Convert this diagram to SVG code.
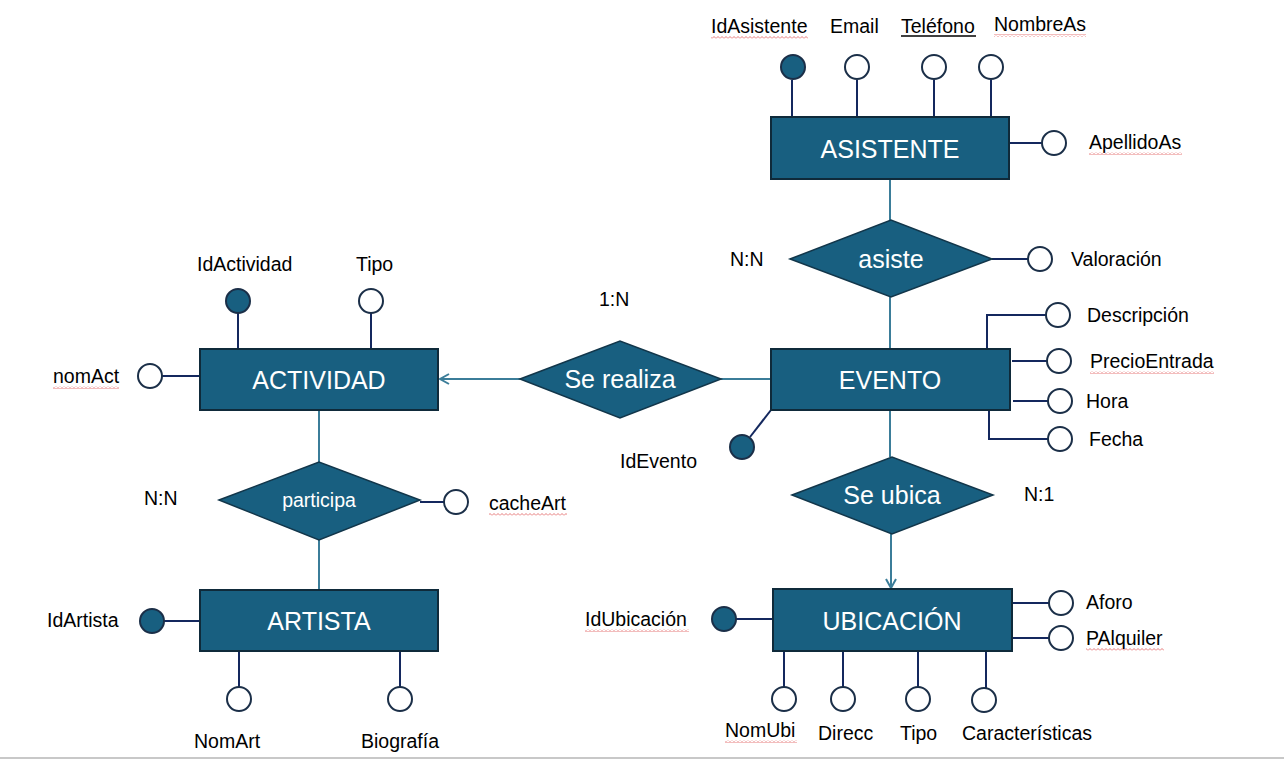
<svg xmlns="http://www.w3.org/2000/svg" width="1284" height="760" viewBox="0 0 1284 760">
<style>
.ent{fill:#185f80;stroke:#0f2a3a;stroke-width:2}
.rel{fill:#185f80;stroke:#12364a;stroke-width:1.5}
.att{fill:#ffffff;stroke:#1b2f48;stroke-width:2}
.key{fill:#185f80;stroke:#1b2f48;stroke-width:2}
.al{stroke:#14285e;stroke-width:2;fill:none}
.rl{stroke:#3b7d99;stroke-width:2;fill:none}
.et{font-family:"Liberation Sans",Arial,sans-serif;font-size:25px;fill:#ffffff;text-anchor:middle}
.rt{font-family:"Liberation Sans",Arial,sans-serif;font-size:25px;fill:#ffffff;text-anchor:middle}
.lb{font-family:"Liberation Sans",Arial,sans-serif;font-size:19.5px;fill:#000000}
.sq{fill:url(#wave)}
</style>
<defs>
<pattern id="wave" width="4" height="3" patternUnits="userSpaceOnUse">
<polyline points="0,2.5 2,0.5 4,2.5" fill="none" stroke="#e05a5a" stroke-width="0.8"/>
</pattern>
<marker id="arr" markerWidth="12" markerHeight="12" refX="10" refY="6" orient="auto" markerUnits="userSpaceOnUse">
<path d="M1,1 L10,6 L1,11" fill="none" stroke="#3b7d99" stroke-width="2"/>
</marker>
</defs>
<rect width="1284" height="760" fill="#ffffff"/>
<line x1="0" y1="758" x2="1284" y2="758" stroke="#c8c8c8" stroke-width="2"/>

<g id="connectors">
<line class="rl" x1="890" y1="179" x2="890" y2="220"/>
<line class="rl" x1="890" y1="297" x2="890" y2="349"/>
<line class="rl" x1="771" y1="379" x2="721" y2="379"/>
<line class="rl" x1="520" y1="379" x2="440" y2="379" marker-end="url(#arr)"/>
<line class="rl" x1="319" y1="410" x2="319" y2="462"/>
<line class="rl" x1="319" y1="540" x2="319" y2="590"/>
<line class="rl" x1="890" y1="410" x2="890" y2="457"/>
<line class="rl" x1="891" y1="534" x2="891" y2="588" marker-end="url(#arr)"/>
<!-- attribute links -->
<line class="al" x1="792" y1="80" x2="792" y2="117"/>
<line class="al" x1="857" y1="80" x2="857" y2="117"/>
<line class="al" x1="934" y1="80" x2="934" y2="117"/>
<line class="al" x1="991" y1="80" x2="991" y2="117"/>
<line class="al" x1="1009" y1="143" x2="1042" y2="143"/>
<line class="al" x1="992" y1="259" x2="1028" y2="259"/>
<polyline class="al" points="987,349 987,315 1046,315"/>
<line class="al" x1="1012" y1="361" x2="1047" y2="361"/>
<line class="al" x1="1013" y1="401" x2="1048" y2="401"/>
<polyline class="al" points="989,410 989,439 1048,439"/>
<line class="al" x1="771" y1="410" x2="750" y2="437"/>
<line class="al" x1="238" y1="313" x2="238" y2="349"/>
<line class="al" x1="371" y1="313" x2="371" y2="349"/>
<line class="al" x1="162" y1="376" x2="200" y2="376"/>
<line class="al" x1="420" y1="502" x2="444" y2="502"/>
<line class="al" x1="164" y1="621" x2="200" y2="621"/>
<line class="al" x1="239" y1="651" x2="239" y2="687"/>
<line class="al" x1="400" y1="651" x2="400" y2="687"/>
<line class="al" x1="736" y1="619" x2="773" y2="619"/>
<line class="al" x1="1013" y1="603" x2="1049" y2="603"/>
<line class="al" x1="1013" y1="638" x2="1049" y2="638"/>
<line class="al" x1="784" y1="651" x2="784" y2="687"/>
<line class="al" x1="843" y1="651" x2="843" y2="687"/>
<line class="al" x1="918" y1="651" x2="918" y2="687"/>
<line class="al" x1="986" y1="651" x2="986" y2="688"/>
</g>

<g id="asistente">
<rect class="ent" x="771" y="117" width="238" height="62"/>
<text class="et" x="890" y="158">ASISTENTE</text>
</g>
<g id="attr-idasistente">
<circle class="key" cx="793" cy="67" r="12"/>
<text class="lb" x="711" y="33">IdAsistente</text>
<rect class="sq" x="711" y="36" width="97" height="3"/>
</g>
<g id="attr-email">
<circle class="att" cx="857" cy="67" r="12"/>
<text class="lb" x="830" y="33">Email</text>
</g>
<g id="attr-telefono">
<circle class="att" cx="934" cy="67" r="12"/>
<text class="lb" x="901" y="33">Teléfono</text>
<line x1="901" y1="36" x2="976" y2="36" stroke="#000" stroke-width="1.5"/>
</g>
<g id="attr-nombreas">
<circle class="att" cx="991" cy="67" r="12"/>
<text class="lb" x="994" y="31">NombreAs</text>
<rect class="sq" x="994" y="34" width="92" height="3"/>
</g>
<g id="attr-apellidoas">
<circle class="att" cx="1054" cy="143" r="12"/>
<text class="lb" x="1089" y="149">ApellidoAs</text>
<rect class="sq" x="1089" y="152" width="93" height="3"/>
</g>

<g id="asiste">
<polygon class="rel" points="790,259 891,220 992,259 891,297"/>
<text class="rt" x="891" y="268">asiste</text>
</g>
<g id="card-nn-1"><text class="lb" x="730" y="266">N:N</text></g>
<g id="attr-valoracion">
<circle class="att" cx="1040" cy="259" r="12"/>
<text class="lb" x="1071" y="266">Valoración</text>
</g>

<g id="evento">
<rect class="ent" x="771" y="349" width="239" height="61"/>
<text class="et" x="890" y="389">EVENTO</text>
</g>
<g id="attr-descripcion">
<circle class="att" cx="1058" cy="315" r="12"/>
<text class="lb" x="1087" y="322">Descripción</text>
</g>
<g id="attr-precioentrada">
<circle class="att" cx="1059" cy="361" r="12"/>
<text class="lb" x="1090" y="368">PrecioEntrada</text>
<rect class="sq" x="1090" y="371" width="124" height="3"/>
</g>
<g id="attr-hora">
<circle class="att" cx="1060" cy="401" r="12"/>
<text class="lb" x="1086" y="408">Hora</text>
</g>
<g id="attr-fecha">
<circle class="att" cx="1060" cy="439" r="12"/>
<text class="lb" x="1089" y="446">Fecha</text>
</g>
<g id="attr-idevento">
<circle class="key" cx="742" cy="447" r="12"/>
<text class="lb" x="620" y="468">IdEvento</text>
</g>

<g id="se-realiza">
<polygon class="rel" points="520,379 620,341 721,379 620,418"/>
<text class="rt" x="620" y="388">Se realiza</text>
</g>
<g id="card-1n"><text class="lb" x="599" y="306">1:N</text></g>

<g id="actividad">
<rect class="ent" x="200" y="349" width="238" height="61"/>
<text class="et" x="319" y="389">ACTIVIDAD</text>
</g>
<g id="attr-idactividad">
<circle class="key" cx="238" cy="301" r="12"/>
<text class="lb" x="197" y="271">IdActividad</text>
</g>
<g id="attr-tipo-act">
<circle class="att" cx="371" cy="301" r="12"/>
<text class="lb" x="356" y="271">Tipo</text>
</g>
<g id="attr-nomact">
<circle class="att" cx="150" cy="376" r="12"/>
<text class="lb" x="53" y="383">nomAct</text>
<rect class="sq" x="53" y="386" width="66" height="3"/>
</g>

<g id="participa">
<polygon class="rel" points="219,500 319,462 420,500 319,540"/>
<text class="lb" x="319" y="507" text-anchor="middle" fill="#ffffff" style="fill:#ffffff">participa</text>
</g>
<g id="card-nn-2"><text class="lb" x="144" y="505">N:N</text></g>
<g id="attr-cacheart">
<circle class="att" cx="456" cy="502" r="12"/>
<text class="lb" x="489" y="510">cacheArt</text>
<rect class="sq" x="489" y="513" width="78" height="3"/>
</g>

<g id="artista">
<rect class="ent" x="200" y="590" width="238" height="61"/>
<text class="et" x="319" y="630">ARTISTA</text>
</g>
<g id="attr-idartista">
<circle class="key" cx="152" cy="621" r="12"/>
<text class="lb" x="47" y="627">IdArtista</text>
</g>
<g id="attr-nomart">
<circle class="att" cx="239" cy="699" r="12"/>
<text class="lb" x="194" y="748">NomArt</text>
</g>
<g id="attr-biografia">
<circle class="att" cx="400" cy="699" r="12"/>
<text class="lb" x="361" y="748">Biografía</text>
</g>

<g id="se-ubica">
<polygon class="rel" points="792,495 892,457 993,495 892,534"/>
<text class="rt" x="892" y="504">Se ubica</text>
</g>
<g id="card-n1"><text class="lb" x="1024" y="501">N:1</text></g>

<g id="ubicacion">
<rect class="ent" x="773" y="589" width="239" height="62"/>
<text class="et" x="892" y="630">UBICACIÓN</text>
</g>
<g id="attr-idubicacion">
<circle class="key" cx="724" cy="619" r="12"/>
<text class="lb" x="585" y="626">IdUbicación</text>
<rect class="sq" x="585" y="629" width="104" height="3"/>
</g>
<g id="attr-aforo">
<circle class="att" cx="1061" cy="603" r="12"/>
<text class="lb" x="1086" y="609">Aforo</text>
</g>
<g id="attr-palquiler">
<circle class="att" cx="1061" cy="638" r="12"/>
<text class="lb" x="1086" y="645">PAlquiler</text>
<rect class="sq" x="1086" y="648" width="78" height="3"/>
</g>
<g id="attr-nomubi">
<circle class="att" cx="784" cy="699" r="12"/>
<text class="lb" x="725" y="737">NomUbi</text>
<rect class="sq" x="725" y="740" width="72" height="3"/>
</g>
<g id="attr-direcc">
<circle class="att" cx="843" cy="699" r="12"/>
<text class="lb" x="818" y="740">Direcc</text>
</g>
<g id="attr-tipo-ubi">
<circle class="att" cx="918" cy="699" r="12"/>
<text class="lb" x="900" y="740">Tipo</text>
</g>
<g id="attr-caracteristicas">
<circle class="att" cx="984" cy="700" r="12"/>
<text class="lb" x="962" y="740">Características</text>
</g>
</svg>
